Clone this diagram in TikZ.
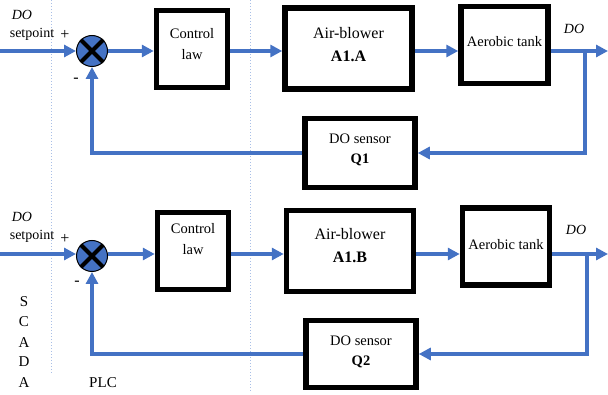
\documentclass[tikz,border=0pt]{standalone}
\usepackage{fontspec}
\setmainfont{Liberation Serif}
\usetikzlibrary{arrows.meta}
\definecolor{flowblue}{HTML}{4472C4}
\definecolor{sepblue}{HTML}{A9BFE6}
\tikzset{
  blockbox/.style={draw=black, line width=5.5pt, fill=white, inner sep=0pt},
  boxtext/.style={inner sep=0pt, align=center, font=\fontsize{14.5}{21}\selectfont},
  bigtext/.style={inner sep=0pt, align=center, font=\fontsize{16}{23}\selectfont},
  flow/.style={draw=flowblue, line width=3.4pt, -{Triangle[length=12pt,width=12pt]}},
  sumnode/.style={circle, draw=black, line width=1pt, fill=flowblue, minimum size=31pt, inner sep=0pt},
  sepline/.style={draw=sepblue, line width=1pt, dotted},
  lbl/.style={inner sep=0pt, font=\fontsize{14}{16}\selectfont},
  sign/.style={inner sep=0pt, font=\fontsize{16}{18}\selectfont},
  dolbl/.style={inner sep=0pt, font=\fontsize{14}{16}\selectfont\itshape},
}
\begin{document}
\begin{tikzpicture}[x=1pt, y=-1pt]
\useasboundingbox (0,0) rectangle (608,395);

% separators between SCADA, PLC and field devices
\draw[sepline] (51,0) -- (51,374);
\draw[sepline] (250,0) -- (250,392);

% ---------- loop A ----------
\node[sumnode] (sum1) at (92,51) {};
\draw[line width=4pt] (sum1.north west) -- (sum1.south east);
\draw[line width=4pt] (sum1.north east) -- (sum1.south west);
\node[blockbox, minimum width=71pt, minimum height=77pt] (ctrl1) at (192,49) {};
\node[boxtext] (ctrl1t) at ([yshift=5pt]ctrl1.center) {Control\\law};
\node[blockbox, minimum width=127pt, minimum height=81pt] (air1) at (348.5,48.5) {};
\node[bigtext] (air1t) at ([yshift=4pt]air1.center) {Air-blower\\\textbf{A1.A}};
\node[blockbox, minimum width=87pt, minimum height=77pt] (tank1) at (504.5,45) {};
\node[boxtext] (tank1t) at ([yshift=3pt]tank1.center) {Aerobic tank};
\node[blockbox, minimum width=110pt, minimum height=69pt] (sens1) at (360,153) {};
\node[boxtext, font=\fontsize{14.5}{20}\selectfont] (sens1t) at ([yshift=3pt]sens1.center) {DO sensor\\\textbf{Q1}};

\coordinate (in1) at (0,51);
\coordinate (out1) at (608,51);
\coordinate (br1) at (585,51);
\draw[flow] (in1) -- (sum1.west);
\draw[flow] (sum1.east) -- (sum1.east -| ctrl1.west);
\draw[flow] (sum1.east -| ctrl1.east) -- (sum1.east -| air1.west);
\draw[flow] (sum1.east -| air1.east) -- (sum1.east -| tank1.west);
\draw[flow] (sum1.east -| tank1.east) -- (out1);
\draw[flow] (br1) |- (sens1.east);
\draw[flow] (sens1.west) -| (sum1.south);

\node[dolbl] (do1) at (22,15) {DO};
\node[lbl] (sp1) at (32,34) {setpoint};
\node[sign] (plus1) at (65,35) {+};
\node[sign] (minus1) at (76,80) {-};
\node[dolbl] (doout1) at (574,29) {DO};

% ---------- loop B ----------
\node[sumnode] (sum2) at (92,256) {};
\draw[line width=4pt] (sum2.north west) -- (sum2.south east);
\draw[line width=4pt] (sum2.north east) -- (sum2.south west);
\node[blockbox, minimum width=71pt, minimum height=77pt] (ctrl2) at (193,251) {};
\node[boxtext] (ctrl2t) at ([yshift=12pt]ctrl2.center) {Control\\law};
\node[blockbox, minimum width=127pt, minimum height=81pt] (air2) at (350,251) {};
\node[bigtext] (air2t) at ([yshift=5pt]air2.center) {Air-blower\\\textbf{A1.B}};
\node[blockbox, minimum width=87pt, minimum height=77pt] (tank2) at (506,246.5) {};
\node[boxtext] (tank2t) at ([yshift=2pt]tank2.center) {Aerobic tank};
\node[blockbox, minimum width=110pt, minimum height=67pt] (sens2) at (361,354) {};
\node[boxtext, font=\fontsize{14.5}{20}\selectfont] (sens2t) at ([yshift=2pt]sens2.center) {DO sensor\\\textbf{Q2}};

\coordinate (in2) at (0,254);
\coordinate (out2) at (608,254);
\coordinate (br2) at (587,254);
\draw[flow] (in2) -- (in2 -| sum2.west);
\draw[flow] (in2 -| sum2.east) -- (in2 -| ctrl2.west);
\draw[flow] (in2 -| ctrl2.east) -- (in2 -| air2.west);
\draw[flow] (in2 -| air2.east) -- (in2 -| tank2.west);
\draw[flow] (in2 -| tank2.east) -- (out2);
\draw[flow] (br2) |- (sens2.east);
\draw[flow] (sens2.west) -| (sum2.south);

\node[dolbl] (do2) at (22,217) {DO};
\node[lbl] (sp2) at (32,236) {setpoint};
\node[sign] (plus2) at (65,239) {+};
\node[sign] (minus2) at (77,283) {-};
\node[dolbl] (doout2) at (576,230) {DO};

% ---------- layer labels ----------
\node[lbl, font=\fontsize{15}{17}\selectfont] (s) at (24,302) {S};
\node[lbl, font=\fontsize{15}{17}\selectfont] (c) at (24,322) {C};
\node[lbl, font=\fontsize{15}{17}\selectfont] (a1) at (24,343) {A};
\node[lbl, font=\fontsize{15}{17}\selectfont] (d) at (24,362) {D};
\node[lbl, font=\fontsize{15}{17}\selectfont] (a2) at (24,383) {A};
\node[lbl, font=\fontsize{15}{17}\selectfont] (plc) at (103,383) {PLC};
\end{tikzpicture}
\end{document}
